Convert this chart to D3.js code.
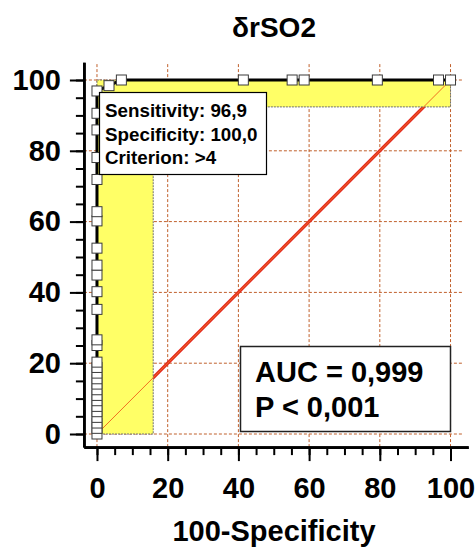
<!DOCTYPE html>
<html>
<head>
<meta charset="utf-8">
<script src="https://cdn.jsdelivr.net/npm/d3@7"></script>
<style>
  body { margin: 0; background: #fff; }
  text { font-family: "Liberation Sans", Arial, sans-serif; font-weight: bold; fill: #000; }
</style>
</head>
<body>
<div id="chart"></div>
<script>
// ROC points: 100-specificity (x) and sensitivity (y)
const fpr = [0, 0, 0, 0, 0, 0, 0, 0, 0, 0, 0, 0, 0, 0, 0, 0, 0, 0, 0, 0, 0, 0, 0, 0, 0, 0, 0, 0,
             3.4, 6.9, 41.4, 55.2, 58.6, 79.3, 96.6, 100]
const sens = [0, 1.6, 3.1, 4.7, 6.3, 7.8, 9.4, 10.9, 12.5, 14.1, 15.6, 17.2, 18.8, 20.3, 25.0, 26.6,
              35.2, 40.2, 44.9, 47.7, 52.5, 60.2, 62.8, 71.9, 78.1, 85.9, 90.6, 96.9,
              98.4, 100, 100, 100, 100, 100, 100, 100]
// confidence band (yellow): upper-left corner region
const ciFpr = [0, 15.9]
const ciSens = [92.4, 100]
const majorTicks = [0, 20, 40, 60, 80, 100]
const minorTicks = d3.range(0, 101, 5)
const legendLines = ['Sensitivity: 96,9', 'Specificity: 100,0', 'Criterion: >4']
const statLines = ['AUC = 0,999', 'P < 0,001']
const title = 'δrSO2'
const xTitle = '100-Specificity'

const width = 476, height = 548
const svg = d3.select('#chart').append('svg')
    .attr('width', width)
    .attr('height', height)

const x = d3.scaleLinear().domain([-3.7, 105]).range([83.9, 468.2])
const y = d3.scaleLinear().domain([-3.7, 105]).range([447.1, 62.3])

const gridColor = '#c0602c'

// gridlines
svg.append('g').selectAll('line.gx')
    .data(majorTicks)
    .enter().append('line')
    .attr('x1', d => x(d)).attr('x2', d => x(d))
    .attr('y1', y.range()[0]).attr('y2', y.range()[1])
    .attr('stroke', gridColor).attr('stroke-width', 1).attr('stroke-dasharray', '3,2')
svg.append('g').selectAll('line.gy')
    .data(majorTicks)
    .enter().append('line')
    .attr('y1', d => y(d)).attr('y2', d => y(d))
    .attr('x1', x.range()[0]).attr('x2', x(103.5))
    .attr('stroke', gridColor).attr('stroke-width', 1).attr('stroke-dasharray', '3,2')

// thick reference diagonal (shows outside the band)
svg.append('line')
    .attr('x1', x(0)).attr('y1', y(0))
    .attr('x2', x(100)).attr('y2', y(100))
    .attr('stroke', '#e3281f').attr('stroke-width', 3.2)

// yellow confidence region
const band = [
    [ciFpr[0], 0], [ciFpr[1], 0], [ciFpr[1], ciSens[0]], [100, ciSens[0]],
    [100, ciSens[1]], [ciFpr[0], ciSens[1]]
]
svg.append('path')
    .attr('d', d3.line().x(d => x(d[0])).y(d => y(d[1]))(band) + 'Z')
    .attr('fill', '#ffff66')
    .attr('stroke', '#707070').attr('stroke-width', 1).attr('stroke-dasharray', '2,1')

// thin diagonal
svg.append('line')
    .attr('x1', x(0)).attr('y1', y(0))
    .attr('x2', x(100)).attr('y2', y(100))
    .attr('stroke', '#f07020').attr('stroke-width', 1)

// axes
const axisMajorX = d3.axisBottom(x).tickValues(majorTicks).tickSize(14).tickSizeOuter(0).tickPadding(16)
const axisMinorX = d3.axisBottom(x).tickValues(minorTicks).tickSize(8).tickSizeOuter(0).tickFormat('')
const axisMajorY = d3.axisLeft(y).tickValues(majorTicks).tickSize(14).tickSizeOuter(0).tickPadding(9)
const axisMinorY = d3.axisLeft(y).tickValues(minorTicks).tickSize(8).tickSizeOuter(0).tickFormat('')

const gx = svg.append('g').attr('transform', `translate(0,${y.range()[0]})`)
gx.append('g').call(axisMinorX)
gx.append('g').call(axisMajorX)
const gy = svg.append('g').attr('transform', `translate(${x.range()[0]},0)`)
gy.append('g').call(axisMinorY)
gy.append('g').call(axisMajorY)

svg.selectAll('.domain').attr('stroke', '#000').attr('stroke-width', 2.6)
svg.selectAll('.tick line').attr('stroke', '#000').attr('stroke-width', 2)
svg.selectAll('.tick text')
    .attr('font-size', 29)
    .attr('font-family', '"Liberation Sans", Arial, sans-serif')
    .attr('font-weight', 'bold')
    .attr('fill', '#000')

// ROC curve
const pts = fpr.map((v, i) => ({ fpr: v, sens: sens[i] }))
svg.append('path')
    .datum(pts)
    .attr('d', d3.line().x(d => x(d.fpr)).y(d => y(d.sens)))
    .attr('fill', 'none')
    .attr('stroke', '#000').attr('stroke-width', 3)

const sq = 10
svg.append('g').selectAll('rect')
    .data(pts)
    .enter().append('rect')
    .attr('x', d => x(d.fpr) - sq / 2)
    .attr('y', d => y(d.sens) - sq / 2)
    .attr('width', sq).attr('height', sq)
    .attr('fill', '#fff')
    .attr('stroke', '#3a3a3a').attr('stroke-width', 1)

// criterion box
const lg = svg.append('g')
lg.append('rect')
    .attr('x', 99.5).attr('y', 92.5)
    .attr('width', 167).attr('height', 82)
    .attr('fill', '#fff').attr('stroke', '#000').attr('stroke-width', 1.2)
lg.selectAll('text')
    .data(legendLines)
    .enter().append('text')
    .attr('x', 105)
    .attr('y', (d, i) => 117 + i * 23.5)
    .attr('font-size', 18.8)
    .text(d => d)

// AUC box
const ab = svg.append('g')
ab.append('rect')
    .attr('x', 240.5).attr('y', 346.5)
    .attr('width', 210).attr('height', 85)
    .attr('fill', '#fff').attr('stroke', '#222').attr('stroke-width', 1.5)
ab.selectAll('text')
    .data(statLines)
    .enter().append('text')
    .attr('x', 255)
    .attr('y', (d, i) => 382 + i * 34.5)
    .attr('font-size', 29)
    .text(d => d)

// titles
svg.append('text')
    .attr('x', 274).attr('y', 37)
    .attr('text-anchor', 'middle')
    .attr('font-size', 28)
    .text(title)
svg.append('text')
    .attr('x', 274).attr('y', 541)
    .attr('text-anchor', 'middle')
    .attr('font-size', 29)
    .text(xTitle)
</script>
</body>
</html>
